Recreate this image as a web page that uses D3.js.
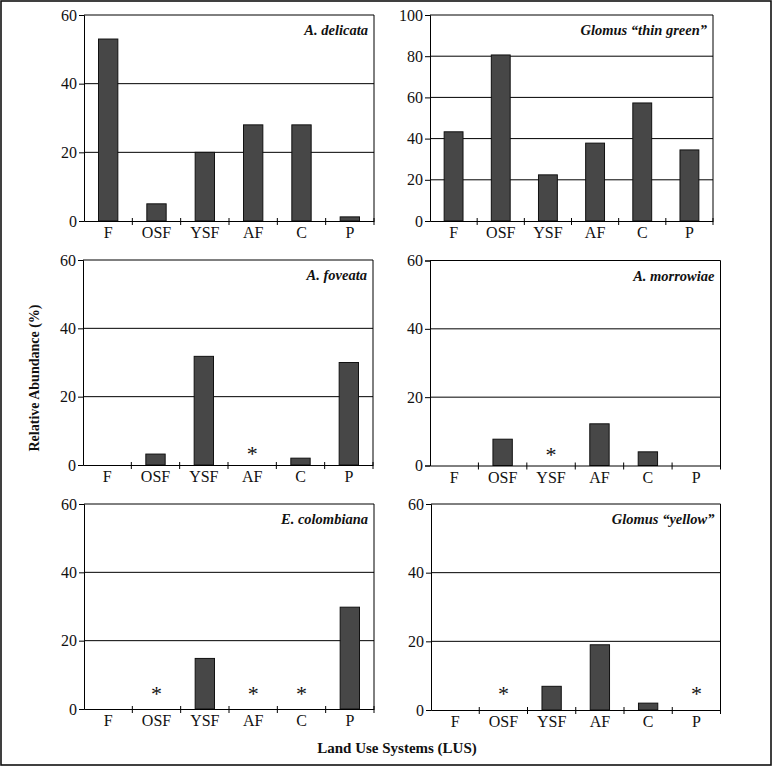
<!DOCTYPE html>
<html>
<head>
<meta charset="utf-8">
<script src="https://cdn.jsdelivr.net/npm/d3@7"></script>
<style>
  html, body { margin: 0; padding: 0; background: #fff; }
  svg { display: block; }
</style>
</head>
<body>
<script>
// ---- data ----
const categories = ["F", "OSF", "YSF", "AF", "C", "P"];
const species = ["A. delicata", "Glomus \u201cthin green\u201d", "A. foveata", "A. morrowiae", "E. colombiana", "Glomus \u201cyellow\u201d"];
const delicata   = [53, 5, 20, 28, 28, 1.2];
const thinGreen  = [43.3, 80.6, 22.4, 37.8, 57.3, 34.5];
const foveata    = [0, 3.2, 31.8, 0, 2.0, 30.0];
const morrowiae  = [0, 7.7, 0, 12.2, 4.0, 0];
const colombiana = [0, 0, 14.8, 0, 0, 29.8];
const yellow     = [0, 0, 6.9, 19, 2.0, 0];
const seriesValues = [delicata, thinGreen, foveata, morrowiae, colombiana, yellow];
// categories marked with an asterisk (not detected)
const asterisks = [[], [], ["AF"], ["YSF"], ["OSF", "AF", "C"], ["OSF", "P"]];
const yTicks60 = [0, 20, 40, 60];
const yTicks100 = [0, 20, 40, 60, 80, 100];
const yMax = [60, 100, 60, 60, 60, 60];
const xTitle = "Land Use Systems (LUS)";
const yTitle = "Relative Abundance (%)";

// ---- layout ----
const W = 774, H = 766;
const panels = [
  {x0: 84,  x1: 374,   y0: 15,    y1: 221,   ast: 14},
  {x0: 430, x1: 713,   y0: 15,    y1: 221,   ast: 14},
  {x0: 83,  x1: 373,   y0: 260,   y1: 465,   ast: 14},
  {x0: 430, x1: 720.5, y0: 260.5, y1: 465.5, ast: 14},
  {x0: 84,  x1: 374,   y0: 504,   y1: 709,   ast: 18},
  {x0: 431, x1: 720.5, y0: 504,   y1: 710,   ast: 19}
];
const serif = "'Liberation Serif', 'Times New Roman', Times, serif";

const svg = d3.select("body").append("svg")
  .attr("width", W).attr("height", H);

svg.append("rect").attr("width", W).attr("height", H).attr("fill", "#fff");
svg.append("rect")
  .attr("x", 1).attr("y", 1).attr("width", 770).attr("height", 764)
  .attr("fill", "none").attr("stroke", "#111").attr("stroke-width", 1.6);

panels.forEach((p, i) => {
  const g = svg.append("g");
  const x = d3.scaleBand().domain(categories).range([p.x0, p.x1])
    .paddingInner(0.6).paddingOuter(0.3);
  const y = d3.scaleLinear().domain([0, yMax[i]]).range([p.y1, p.y0]);
  const ticks = yMax[i] === 100 ? yTicks100 : yTicks60;

  // gridlines
  g.selectAll("line.grid").data(ticks.filter(t => t > 0 && t < yMax[i]))
    .enter().append("line")
    .attr("x1", p.x0).attr("x2", p.x1)
    .attr("y1", d => y(d)).attr("y2", d => y(d))
    .attr("stroke", "#000").attr("stroke-width", 1);

  // plot frame (top & right)
  g.append("path")
    .attr("d", `M${p.x0},${y(yMax[i])}H${p.x1}V${p.y1}`)
    .attr("fill", "none").attr("stroke", "#000").attr("stroke-width", 1);

  // bars
  const vals = seriesValues[i];
  g.selectAll("rect.bar").data(categories.map((c, k) => ({c, v: vals[k]})).filter(d => d.v > 0))
    .enter().append("rect")
    .attr("x", d => x(d.c)).attr("width", x.bandwidth())
    .attr("y", d => y(d.v)).attr("height", d => y(0) - y(d.v))
    .attr("fill", "#474747").attr("stroke", "#111").attr("stroke-width", 1);

  // y axis
  const ya = g.append("g").attr("transform", `translate(${p.x0},0)`)
    .call(d3.axisLeft(y).tickValues(ticks).tickSize(5).tickPadding(2).tickFormat(d3.format("d")));
  ya.attr("font-family", serif).attr("font-size", 16);
  ya.select(".domain").attr("stroke", "#000").attr("stroke-width", 1);
  ya.selectAll(".tick line").attr("stroke", "#000");
  ya.selectAll("text").attr("font-family", serif).attr("font-size", 16).attr("fill", "#111");

  // x axis (category boundaries as ticks)
  const xa = g.append("g").attr("transform", `translate(0,${p.y1})`)
    .call(d3.axisBottom(x).tickSize(0).tickPadding(6));
  xa.attr("font-family", serif).attr("font-size", 16);
  xa.select(".domain").attr("stroke", "#000").attr("stroke-width", 1);
  xa.selectAll("text").attr("font-family", serif).attr("font-size", 16).attr("fill", "#111");
  const step = x.step();
  xa.selectAll("line.sep").data(d3.range(1, categories.length + 1))
    .enter().append("line").attr("class", "sep")
    .attr("x1", k => p.x0 + k * step).attr("x2", k => p.x0 + k * step)
    .attr("y1", -3).attr("y2", 4)
    .attr("stroke", "#000").attr("stroke-width", 1);

  // asterisks
  g.selectAll("text.ast").data(asterisks[i])
    .enter().append("text")
    .attr("x", d => x(d) + x.bandwidth() / 2)
    .attr("y", y(0) - p.ast + 10)
    .attr("text-anchor", "middle")
    .attr("font-family", serif).attr("font-size", 22).attr("fill", "#111")
    .text("*");

  // species title
  g.append("text")
    .attr("x", p.x1 - 6).attr("y", p.y0 + 20)
    .attr("text-anchor", "end")
    .attr("font-family", serif).attr("font-size", 14.5)
    .attr("font-weight", "bold").attr("font-style", "italic").attr("fill", "#111")
    .text(species[i]);
});

// axis titles
svg.append("text")
  .attr("x", 397).attr("y", 753)
  .attr("text-anchor", "middle")
  .attr("font-family", serif).attr("font-size", 15).attr("font-weight", "bold").attr("fill", "#111")
  .text(xTitle);

svg.append("text")
  .attr("transform", "translate(39,378) rotate(-90)")
  .attr("text-anchor", "middle")
  .attr("font-family", serif).attr("font-size", 14).attr("font-weight", "bold").attr("fill", "#111")
  .text(yTitle);
</script>
</body>
</html>
